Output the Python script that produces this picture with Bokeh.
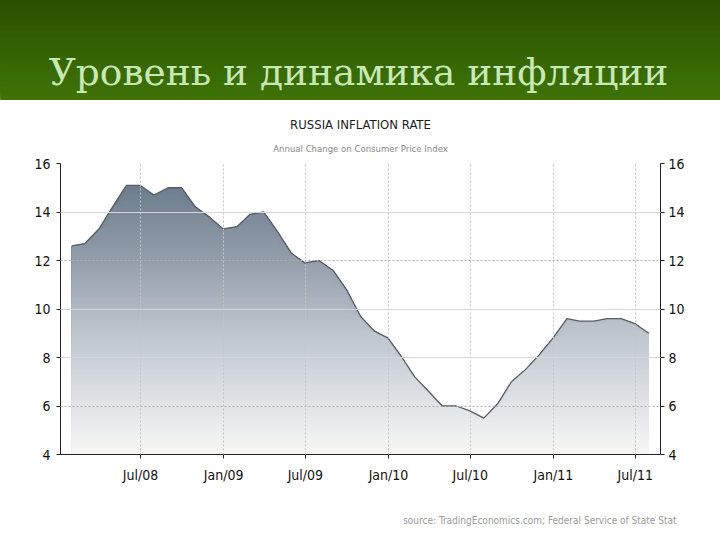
import numpy as np
import pandas as pd
from bokeh.plotting import figure
from bokeh.models import (Range1d, LinearAxis, FixedTicker, Grid, Title,
                          DatetimeTickFormatter)
from bokeh.embed import file_html
from bokeh.resources import INLINE
from bokeh.core.properties import value

# ---------------- data ----------------
months = pd.date_range("2008-01", "2011-07", freq="MS").strftime("%Y-%m").tolist()
inflation = [12.6, 12.7, 13.3, 14.2, 15.1, 15.1, 14.7, 15.0, 15.0, 14.2, 13.8, 13.3,
             13.4, 13.9, 14.0, 13.2, 12.3, 11.9, 12.0, 11.6, 10.8, 9.7, 9.1, 8.8,
             8.0, 7.2, 6.6, 6.0, 6.0, 5.8, 5.5, 6.1, 7.0, 7.5, 8.1, 8.8,
             9.6, 9.5, 9.5, 9.6, 9.6, 9.4, 9.0]
tick_dates = ["2008-07-01", "2009-01-01", "2009-07-01", "2010-01-01",
              "2010-07-01", "2011-01-01", "2011-07-01"]
y_ticks = [4, 6, 8, 10, 12, 14, 16]

header_text = "Уровень и динамика инфляции"
chart_title = "RUSSIA INFLATION RATE"
chart_subtitle = "Annual Change on Consumer Price Index"
source_text = "source: TradingEconomics.com; Federal Service of State Stat"

NARROW = "Liberation Sans Narrow, DejaVu Sans Condensed, Arial Narrow, sans-serif"
W = 720


def bare(h):
    f = figure(width=W, height=h, x_range=Range1d(0, W), y_range=Range1d(0, h),
               output_backend="svg", toolbar_location=None, title=None,
               x_axis_location=None, y_axis_location=None,
               min_border=0, min_border_left=0, min_border_right=0,
               min_border_top=0, min_border_bottom=0)
    f.grid.visible = False
    f.outline_line_color = None
    return f


# ---------------- header ----------------
HH = 100
hdr = bare(HH)
hdr.background_fill_color = "#2a5400"
hdr.border_fill_color = "#356500"
nb = 50
edges = np.linspace(0, HH, nb + 1)
bot_c = np.array([63, 116, 8])
top_c = np.array([42, 82, 0])
for i in range(nb):
    t = (i + 0.5) / nb
    c = (bot_c * (1 - t) + top_c * t).astype(int)
    hdr.quad(left=-2, right=W + 2, bottom=edges[i], top=HH + 2,
             fill_color="#%02x%02x%02x" % tuple(c), line_color=None)
hdr.text(x=[358], y=[29], text=[header_text], text_font=value("DejaVu Serif"),
         text_font_size="37.5px", text_color="#c8e8b4", text_align="center",
         text_baseline="alphabetic")

# ---------------- chart ----------------
x = pd.to_datetime(months) + pd.offsets.MonthEnd(0)
vals = np.array(inflation, dtype=float)
ticks_ms = [pd.Timestamp(d).value // 10**6 for d in tick_dates]

p = figure(width=W, height=400, x_axis_type="datetime",
           x_range=Range1d(pd.Timestamp("2008-01-06"), pd.Timestamp("2011-08-26")),
           y_range=Range1d(4, 16), output_backend="svg", toolbar_location=None,
           min_border_left=60, min_border_right=60, min_border_top=63,
           min_border_bottom=46)
p.outline_line_color = None

# gradient fill under the line, stacked bands drawn from the top down
stops_y = [4.0, 6.0, 9.0, 12.0, 15.2]
stops_r = [248, 226, 190, 148, 108]
stops_g = [247, 229, 198, 159, 124]
stops_b = [245, 232, 206, 171, 140]
band_edges = np.arange(4.0, 15.31, 0.1)
for lo, hi in reversed(list(zip(band_edges[:-1], band_edges[1:]))):
    mid = (lo + hi) / 2
    c = (int(np.interp(mid, stops_y, stops_r)), int(np.interp(mid, stops_y, stops_g)),
         int(np.interp(mid, stops_y, stops_b)))
    p.varea(x=x, y1=np.full_like(vals, 4.0), y2=np.minimum(vals, hi),
            fill_color="#%02x%02x%02x" % c)
p.line(x=x, y=vals, line_color="#575d64", line_width=1.3)

# grids
p.xgrid.ticker = FixedTicker(ticks=ticks_ms)
p.xgrid.grid_line_color = "#c4c4c4"
p.xgrid.grid_line_dash = "2 2"
p.xgrid.level = "annotation"
p.ygrid.ticker = FixedTicker(ticks=[8, 10, 14, 16])
p.ygrid.grid_line_color = "#d6d6d6"
p.ygrid.level = "annotation"
g2 = Grid(dimension=1, ticker=FixedTicker(ticks=[6, 12]), grid_line_color="#b0b0b0",
          grid_line_dash="2 2", level="annotation")
p.add_layout(g2)

# axes
fmt = DatetimeTickFormatter(days="%b/%y", months="%b/%y", years="%b/%y",
                            hours="%b/%y", minutes="%b/%y")
p.xaxis.ticker = FixedTicker(ticks=ticks_ms)
p.xaxis.formatter = fmt
p.yaxis.ticker = FixedTicker(ticks=y_ticks)
ra = LinearAxis(ticker=FixedTicker(ticks=y_ticks))
p.add_layout(ra, "right")
for ax in [p.xaxis[0], p.yaxis[0], ra]:
    ax.axis_line_color = "#222222"
    ax.major_tick_line_color = "#222222"
    ax.minor_tick_line_color = None
    ax.major_tick_in = 0
    ax.major_tick_out = 4
    ax.major_label_text_font = NARROW
    ax.major_label_text_font_size = "14px"
    ax.major_label_text_color = "#111111"
p.xaxis.major_label_standoff = 8
p.yaxis.major_label_standoff = 6
ra.major_label_standoff = 4

# titles
p.add_layout(Title(text=chart_subtitle, align="center", text_font=NARROW,
                   text_font_size="9.5px", text_font_style="normal",
                   text_color="#8a8a8a", standoff=19), "above")
p.add_layout(Title(text=chart_title, align="center", text_font=NARROW,
                   text_font_size="13px", text_font_style="normal",
                   text_color="#1a1a1a", standoff=0), "above")

# ---------------- footer (source) ----------------
ftr = bare(40)
ftr.text(x=[676], y=[20], text=[source_text], text_font=value(NARROW),
         text_font_size="10px", text_color="#9a9a9a", text_align="right",
         text_baseline="middle")

open("out.html", "w").write(file_html([hdr, p, ftr], INLINE))
